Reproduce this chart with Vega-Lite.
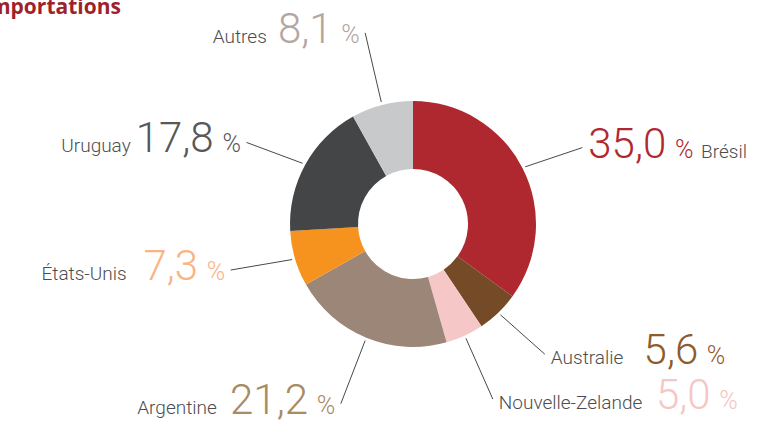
{
  "$schema": "https://vega.github.io/schema/vega-lite/v6.json",
  "width": 736,
  "height": 412,
  "autosize": {"type": "none"},
  "padding": {"left": 45, "top": 18, "right": 0, "bottom": 0},
  "background": "white",
  "config": {"view": {"stroke": null}, "font": "Roboto"},
  "title": {
    "text": "Importations",
    "anchor": "start",
    "frame": "group",
    "dx": -62,
    "dy": 30,
    "offset": 4,
    "baseline": "alphabetic",
    "font": "Open Sans",
    "fontSize": 21,
    "fontWeight": "bold",
    "color": "#a01f2d"
  },
  "data": {
    "values": [
      {"pays": "Brésil", "part": 35.0},
      {"pays": "Australie", "part": 5.6},
      {"pays": "Nouvelle-Zelande", "part": 5.0},
      {"pays": "Argentine", "part": 21.2},
      {"pays": "États-Unis", "part": 7.3},
      {"pays": "Uruguay", "part": 17.8},
      {"pays": "Autres", "part": 8.1}
    ]
  },
  "transform": [
    {"window": [{"op": "sum", "field": "part", "as": "fin"}], "frame": [null, 0]},
    {"calculate": "datum.fin - datum.part", "as": "debut"},
    {"calculate": "(datum.fin - datum.part / 2) * 2 * PI / 100", "as": "ang"},
    {"calculate": "sin(datum.ang)", "as": "sx"},
    {"calculate": "cos(datum.ang)", "as": "cy"},
    {"calculate": "replace(format(datum.part, '.1f'), '.', ',')", "as": "txt"},
    {"calculate": "126 * datum.sx", "as": "x0"},
    {"calculate": "126 * datum.cy", "as": "y0"},
    {"calculate": "190 * datum.sx", "as": "ax"},
    {"calculate": "datum.cy * (160 + 40 * datum.cy * datum.cy)", "as": "ay"},
    {"calculate": "(length(datum.txt) - 1) * 23.6 + 8", "as": "numW"},
    {"calculate": "length(datum.pays) * 9.2", "as": "nameW"},
    {"calculate": "datum.sx > 0 && datum.cy > 0", "as": "numFirst"},
    {"calculate": "datum.sx > 0 ? datum.ax + 6 : datum.ax - 6 - (datum.nameW + datum.numW + 36)", "as": "start"},
    {"calculate": "datum.numFirst ? datum.start : datum.start + datum.nameW + 10", "as": "numX"},
    {"calculate": "datum.numX + datum.numW + 8", "as": "pctX"},
    {"calculate": "datum.numFirst ? datum.pctX + 26 : datum.start", "as": "nameX"},
    {"calculate": "datum.ay - 10", "as": "ty"}
  ],
  "layer": [
    {
      "mark": {"type": "arc", "outerRadius": 123, "innerRadius": 55},
      "encoding": {
        "theta": {"field": "debut", "type": "quantitative", "scale": {"domain": [0, 100]}},
        "theta2": {"field": "fin"},
        "color": {
          "field": "pays",
          "type": "nominal",
          "legend": null,
          "scale": {
            "domain": ["Brésil", "Australie", "Nouvelle-Zelande", "Argentine", "États-Unis", "Uruguay", "Autres"],
            "range": ["#b0282f", "#744b26", "#f6c7c7", "#9c8678", "#f6931e", "#444547", "#c8c9ca"]
          }
        }
      }
    },
    {
      "mark": {"type": "rule", "color": "#333333", "strokeWidth": 0.9},
      "encoding": {
        "x": {"field": "x0", "type": "quantitative", "axis": null, "scale": {"domain": [-368, 368], "nice": false, "zero": false}},
        "y": {"field": "y0", "type": "quantitative", "axis": null, "scale": {"domain": [-206, 206], "nice": false, "zero": false}},
        "x2": {"field": "ax"},
        "y2": {"field": "ay"}
      }
    },
    {
      "mark": {"type": "text", "align": "left", "baseline": "alphabetic", "fontSize": 42, "fontWeight": 300},
      "encoding": {
        "x": {"field": "numX", "type": "quantitative", "axis": null, "scale": {"domain": [-368, 368], "nice": false, "zero": false}},
        "y": {"field": "ty", "type": "quantitative", "axis": null, "scale": {"domain": [-206, 206], "nice": false, "zero": false}},
        "text": {"field": "txt"},
        "fill": {
          "field": "pays",
          "type": "nominal",
          "legend": null,
          "scale": {
            "domain": ["Brésil", "Australie", "Nouvelle-Zelande", "Argentine", "États-Unis", "Uruguay", "Autres"],
            "range": ["#b0282f", "#8d5b2c", "#f6c5c5", "#a88a63", "#f9b484", "#58585a", "#b3a69e"]
          }
        }
      }
    },
    {
      "mark": {"type": "text", "align": "left", "baseline": "alphabetic", "fontSize": 25, "fontWeight": 300},
      "encoding": {
        "x": {"field": "pctX", "type": "quantitative", "axis": null, "scale": {"domain": [-368, 368], "nice": false, "zero": false}},
        "y": {"field": "ty", "type": "quantitative", "axis": null, "scale": {"domain": [-206, 206], "nice": false, "zero": false}},
        "text": {"value": "%"},
        "fill": {
          "field": "pays",
          "type": "nominal",
          "legend": null,
          "scale": {
            "domain": ["Brésil", "Australie", "Nouvelle-Zelande", "Argentine", "États-Unis", "Uruguay", "Autres"],
            "range": ["#b0282f", "#8d5b2c", "#f6c5c5", "#a88a63", "#f9b484", "#58585a", "#b3a69e"]
          }
        }
      }
    },
    {
      "mark": {"type": "text", "align": "left", "baseline": "alphabetic", "fontSize": 19, "fontWeight": 300, "fill": "#4d4d4f"},
      "encoding": {
        "x": {"field": "nameX", "type": "quantitative", "axis": null, "scale": {"domain": [-368, 368], "nice": false, "zero": false}},
        "y": {"field": "ty", "type": "quantitative", "axis": null, "scale": {"domain": [-206, 206], "nice": false, "zero": false}},
        "text": {"field": "pays"}
      }
    }
  ]
}
